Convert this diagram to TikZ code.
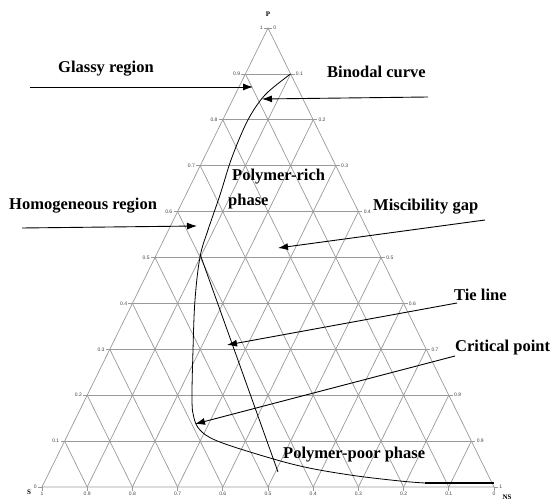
\documentclass[tikz,border=0pt]{standalone}
\usepackage{fontspec}
\setmainfont{Liberation Serif}
\newfontfamily\tickfont{Liberation Sans}
\usetikzlibrary{arrows.meta,calc}

\begin{document}
\begin{tikzpicture}[x=1pt, y=-1pt,
  ternline/.style={gray!80, line width=0.7pt},
  binodal/.style={black, line width=0.8pt},
  callout/.style={-{Latex[length=10pt,width=7pt]}, line width=0.9pt},
  lbl/.style={font=\bfseries\fontsize{16.5}{18}\selectfont, inner sep=0pt, anchor=west},
  ticklbl/.style={font=\tickfont\fontsize{5}{6}\selectfont, text=black!75, inner sep=1pt},
  corner/.style={font=\bfseries\fontsize{7}{8}\selectfont, inner sep=0pt}]

  \useasboundingbox (0,0) rectangle (552,502);

  \coordinate (S) at (42,487);
  \coordinate (NS) at (494,487);
  \coordinate (P) at (268,28);

  \draw[ternline] (S) -- (NS) -- (P) -- cycle;
  \foreach \a [evaluate=\a as \f using \a/10, evaluate=\a as \g using 1-\a/10] in {1,...,9} {
    \draw[ternline] ($(S)!\f!(P)$) -- ($(NS)!\f!(P)$);
    \draw[ternline] ($(S)!\f!(NS)$) -- ($(NS)!\g!(P)$);
    \draw[ternline] ($(S)!\f!(NS)$) -- ($(S)!\f!(P)$);
  }

  \foreach \f/\r [count=\i] in {0/1, 0.1/0.9, 0.2/0.8, 0.3/0.7, 0.4/0.6, 0.5/0.5, 0.6/0.4, 0.7/0.3, 0.8/0.2, 0.9/0.1, 1/0} {
    \draw[ternline] ($(S)!\f!(P)$) -- ++(-4,0) node[ticklbl, anchor=east] (lt\i) {\f};
    \draw[ternline] ($(NS)!\f!(P)$) -- ++(4,0) node[ticklbl, anchor=west] (rt\i) {\r};
    \draw[ternline] ($(S)!\f!(NS)$) -- ++(0,4) node[ticklbl, anchor=north] (bt\i) {\r};
  }

  \node[corner] (Plbl) at (268,14) {P};
  \node[corner] (Slbl) at (29,492) {S};
  \node[corner] (NSlbl) at (507,497) {NS};

  \coordinate (bintop) at ($(NS)!0.9!(P)$);
  \draw[binodal] plot[smooth, tension=0.6] coordinates {(bintop) (268,92) (255,108) (244,128) (231,160)
    (220,195) (208,230) (200,257) (195,300) (193,350) (192,400) (194,418) (200,430) (215,440)
    (250,452) (300,466) (350,475) (400,481) (425,483)};
  \draw[line width=1.6pt] (425,483) -- (494,483);

  \coordinate (tie-a) at (200,254);
  \coordinate (tie-b) at (278,472);
  \draw[binodal] (tie-a) -- (tie-b);

  \node[lbl] (glassy) at (58,69) {Glassy region};
  \node[lbl] (binod) at (327,72) {Binodal curve};
  \node[lbl] (homog) at (9,206) {Homogeneous region};
  \node[lbl] (prich) at (232,177) {Polymer-rich};
  \node[lbl] (prich2) at (228,202) {phase};
  \node[lbl] (misc) at (373,207) {Miscibility gap};
  \node[lbl] (tie) at (454,295) {Tie line};
  \node[lbl] (crit) at (455,348) {Critical point};
  \node[lbl] (ppoor) at (283,455) {Polymer-poor phase};

  \coordinate (glassy-from) at (30,87);
  \coordinate (glassy-to) at (253,87);
  \coordinate (binod-from) at (428,97);
  \coordinate (binod-to) at (262,99);
  \coordinate (homog-from) at (22,228);
  \coordinate (homog-to) at (197,226);
  \coordinate (misc-from) at (485,220);
  \coordinate (misc-to) at (278,248);
  \coordinate (tie-from) at (457,303);
  \coordinate (tie-to) at (227,345);
  \coordinate (crit-from) at (455,356);
  \coordinate (crit-to) at (195,424);

  \draw[callout] (glassy-from) -- (glassy-to);
  \draw[callout] (binod-from) -- (binod-to);
  \draw[callout] (homog-from) -- (homog-to);
  \draw[callout] (misc-from) -- (misc-to);
  \draw[callout] (tie-from) -- (tie-to);
  \draw[callout] (crit-from) -- (crit-to);
\end{tikzpicture}
\end{document}
